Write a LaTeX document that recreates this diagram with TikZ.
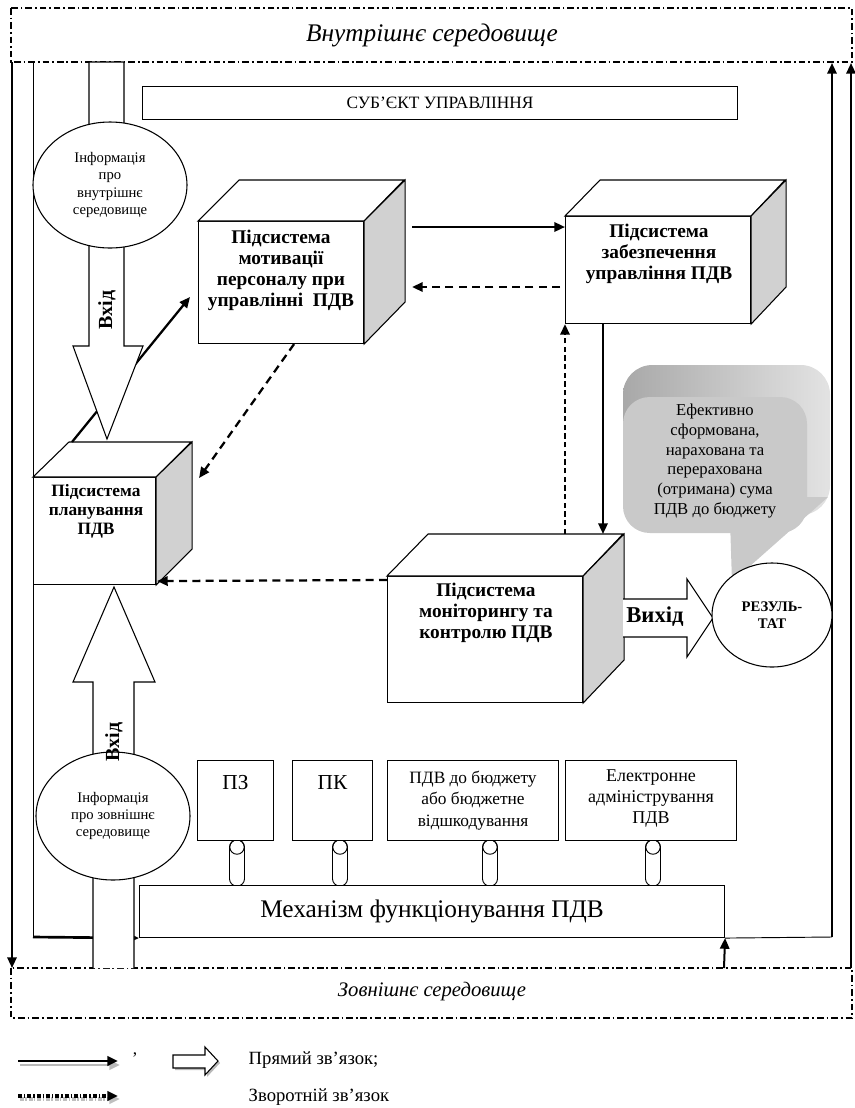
\documentclass[tikz,border=0pt]{standalone}
\usepackage{fontspec}
\setmainfont{Liberation Serif}
\usetikzlibrary{arrows.meta,calc,shapes.geometric}
\definecolor{cubegray}{gray}{0.82}
\definecolor{bubface}{gray}{0.79}
\definecolor{bubtop}{gray}{0.66}
\definecolor{bubright}{gray}{0.89}
\newcommand{\cubebox}[7]{%
  \node[face, minimum width=#4*0.75pt, minimum height=#5*0.75pt] (#1) at (#2,#3) {};
  \draw[cubeline, fill=white] (#1.north west) -- ++(#6,-#7) -- ++(#4,0) -- (#1.north east) -- cycle;
  \draw[cubeline, fill=cubegray] (#1.north east) -- ++(#6,-#7) -- ++(0,#5) -- (#1.south east) -- cycle;
}
\newcommand{\capsule}[3]{%
  \node[capsulebox] (#1) at (#2,#3) {};
  \draw[line width=0.7pt] ([shift={(0,7.5)}]#1.north) circle [radius=5.4pt];
}
\begin{document}
\begin{tikzpicture}[x=0.75pt,y=-0.75pt,
  cubeline/.style={line width=0.8pt},
  face/.style={draw, line width=0.8pt, fill=white, inner sep=0pt, anchor=north west},
  thinline/.style={line width=0.7pt},
  frameline/.style={line width=1.5pt},
  dashdot/.style={line width=1pt, dash pattern=on 5pt off 2.2pt on 1.3pt off 2.2pt},
  tip/.style={-{Triangle[length=8pt,width=7pt]}},
  arr/.style={line width=1.7pt, tip},
  darr/.style={arr, dash pattern=on 6pt off 4pt},
  sdarr/.style={arr, dash pattern=on 4pt off 2.5pt},
  farr/.style={frameline, -{Triangle[length=8pt,width=7pt]}},
  cubetext/.style={font=\bfseries\fontsize{14.5}{15.8}\selectfont, align=center},
  infotext/.style={font=\fontsize{11}{13}\selectfont, align=center},
  boxtext/.style={font=\fontsize{13}{16}\selectfont, align=center},
  smallbox/.style={draw, line width=0.8pt, fill=white, inner sep=0pt, anchor=north west},
  blockarrow/.style={draw, line width=0.8pt, fill=white},
  capsulebox/.style={draw, line width=0.7pt, fill=white, inner sep=0pt, rounded corners=5.4pt,
                     minimum width=15*0.75pt, minimum height=46*0.75pt}
]
\useasboundingbox (0,0) rectangle (855,1108);

% ---------- environment bands ----------
\draw[dashdot] (11,8) rectangle (852,62);
\node[font=\itshape\fontsize{19}{22}\selectfont] (inenv) at (432,35) {Внутрішнє середовище};
\draw[dashdot] (11,968) rectangle (852,1018);
\node[font=\itshape\fontsize{15.5}{18}\selectfont] (outenv) at (432,992) {Зовнішнє середовище};

% ---------- subject ----------
\node[draw, line width=0.8pt, minimum width=595*0.75pt, minimum height=33*0.75pt, inner sep=0, anchor=north west,
      font=\fontsize{13}{15}\selectfont] (subj) at (142,86) {СУБ’ЄКТ УПРАВЛІННЯ};

% ---------- capsules (behind mechanism) ----------
\capsule{c1}{237}{863}
\capsule{c2}{340}{863}
\capsule{c3}{490}{863}
\capsule{c4}{653}{863}

% ---------- mechanism ----------
\node[draw, line width=0.8pt, fill=white, minimum width=585*0.75pt, minimum height=52*0.75pt, inner sep=0, anchor=north west,
      font=\fontsize{19}{22}\selectfont] (mech) at (139,885) {Механізм функціонування ПДВ};

% ---------- frame lines ----------
\coordinate (lt) at (12,62);  \coordinate (lb) at (12,968);
\draw[farr] (lt) -- (lb);
\coordinate (it) at (33,62); \coordinate (ib) at (33,937);
\draw[thinline] (it) -- (ib);
\draw[line width=2pt, -{Triangle[length=7pt,width=6pt]}] (ib) -- (mech.south west);
\coordinate (mb) at (724,968);
\draw[farr] (mb) -- (mech.south east);
\coordinate (rib) at (832,937); \coordinate (rit) at (832,63);
\draw[thinline] (mech.south east) -- (rib);
\draw[farr] (rib) -- (rit);
\coordinate (rob) at (851,968); \coordinate (rot) at (851,63);
\draw[farr] (rob) -- (rot);

% ---------- cubes ----------
\cubebox{mot}{198}{221}{165}{122}{41}{41}
\node[cubetext] (mot-t) at (281,270) {Підсистема\\мотивації\\персоналу при\\управлінні\ \ ПДВ};
\cubebox{zab}{565}{216}{185}{107}{35}{36}
\node[cubetext] (zab-t) at (659,254) {Підсистема\\забезпечення\\управління ПДВ};
\cubebox{plan}{33}{477}{122}{107}{36}{35}
\node[cubetext, font=\bfseries\fontsize{13}{14.3}\selectfont] (plan-t) at (96,511) {Підсистема\\планування\\ПДВ};
\cubebox{mon}{387}{576}{195}{126}{41}{42}
\node[cubetext] (mon-t) at (486,613) {Підсистема\\моніторингу та\\контролю ПДВ};

% ---------- connectors ----------
\draw[arr] ([shift={(48,6)}]mot.north east) -- ([shift={(0,11)}]zab.north west);
\draw[darr] ([shift={(-5,71)}]zab.north west) -- ([shift={(48,66)}]mot.north east);
\draw[arr] ([shift={(38,0)}]zab.south west) -- ([shift={(216,-42)}]mon.north west);
\draw[sdarr] ([shift={(178,-42)}]mon.north west) -- (zab.south west);
\draw[darr] ([shift={(-70,0)}]mot.south east) -- ([shift={(43,1)}]plan.north east);
\draw[arr] ([shift={(39,-35)}]plan.north west) -- ([shift={(-8,76)}]mot.north west);
\draw[darr] ([shift={(0,4)}]mon.north west) -- ([shift={(1,-4)}]plan.south east);

% ---------- big input arrows ----------
\draw[blockarrow] (89,62) -- (89,346) -- (73,346) -- (107,439) -- (143,346) -- (124,346) -- (124,62) -- cycle;
\node[ellipse, draw, line width=0.8pt, fill=white, inner sep=0, minimum width=154*0.75pt, minimum height=126*0.75pt,
      infotext] (ininfo) at (110,185) {Інформація\\про\\внутрішнє\\середовище};
\node[rotate=90, font=\bfseries\fontsize{15}{17}\selectfont] (vh1) at (107,310) {Вхід};

\draw[blockarrow] (93,968) -- (93,682) -- (73,682) -- (114,587) -- (155,682) -- (134,682) -- (134,968);
\node[ellipse, draw, line width=0.8pt, fill=white, inner sep=0, minimum width=154*0.75pt, minimum height=128*0.75pt,
      infotext] (outinfo) at (113,816) {Інформація\\про зовнішнє\\середовище};
\node[rotate=90, font=\bfseries\fontsize{15}{17}\selectfont] (vh2) at (114,742) {Вхід};

% ---------- bottom boxes ----------
\node[smallbox, minimum width=76*0.75pt, minimum height=80*0.75pt] (pz) at (197,760) {};
\node[font=\fontsize{16}{18}\selectfont] (pz-t) at ([shift={(0,23)}]pz.north) {ПЗ};
\node[smallbox, minimum width=80*0.75pt, minimum height=80*0.75pt] (pk) at (292,760) {};
\node[font=\fontsize{16}{18}\selectfont] (pk-t) at ([shift={(0,23)}]pk.north) {ПК};
\node[smallbox, minimum width=171*0.75pt, minimum height=80*0.75pt] (pdv) at (387,760) {};
\node[boxtext] (pdv-t) at (pdv.center) {ПДВ до бюджету\\або бюджетне\\відшкодування};
\node[smallbox, minimum width=171*0.75pt, minimum height=80*0.75pt] (el) at (565,760) {};
\node[boxtext, font=\fontsize{13.5}{15.8}\selectfont] (el-t) at ([shift={(0,-2)}]el.center) {Електронне\\адміністрування\\ПДВ};

% ---------- speech bubble ----------
\path[rounded corners=22pt, left color=bubtop, right color=bubright] (623,365) rectangle (830,515);
\fill[bubface] (730,520) -- (732,582) -- (828,497) -- (800,497) -- cycle;
\fill[bubface, rounded corners=20pt] (623,397) rectangle (807,533);
\node[font=\fontsize{12.5}{14.8}\selectfont, align=center] (bub) at (715,461)
  {Ефективно\\сформована,\\нарахована та\\перерахована\\(отримана) сума\\ПДВ до бюджету};

% ---------- output ----------
\draw[blockarrow] (623,599) -- (687,599) -- (687,579) -- (713,618) -- (687,657) -- (687,637) -- (623,637);
\node[font=\bfseries\fontsize{17}{19}\selectfont] (vyh) at (655,617) {Вихід};
\node[ellipse, draw, line width=0.8pt, fill=white, inner sep=0, minimum width=120*0.75pt, minimum height=104*0.75pt,
      align=center, font=\bfseries\fontsize{11}{13}\selectfont] (res) at (772,615) {РЕЗУЛЬ-\\ТАТ};

% ---------- legend ----------
\coordinate (l1a) at (18,1061); \coordinate (l1b) at (118,1061);
\draw[line width=2pt, gray!55, -{Triangle[length=8pt,width=7pt]}] ([shift={(2,4)}]l1a) -- ([shift={(2,4)}]l1b);
\draw[line width=2pt, -{Triangle[length=8pt,width=7pt]}] (l1a) -- (l1b);
\node[font=\fontsize{13}{15}\selectfont] (comma) at (135,1055) {,};
\fill[gray!55] (175,1057) -- (207,1057) -- (207,1049) -- (220,1063) -- (207,1077) -- (207,1070) -- (175,1070) -- cycle;
\draw[blockarrow] (173,1055) -- (205,1055) -- (205,1047) -- (218,1061) -- (205,1075) -- (205,1068) -- (173,1068) -- cycle;
\node[anchor=west, font=\fontsize{14}{16}\selectfont] (lg1) at (244,1060) {Прямий зв’язок;};
\coordinate (l2a) at (18,1096); \coordinate (l2b) at (118,1096);
\draw[line width=3pt, gray!50, dash pattern=on 3pt off 1pt on 1pt off 1.5pt, -{Triangle[length=8pt,width=7pt]}] ([shift={(2,3)}]l2a) -- ([shift={(2,3)}]l2b);
\draw[line width=2.6pt, dash pattern=on 3pt off 1.5pt on 1pt off 1.5pt, -{Triangle[length=8pt,width=7pt]}] (l2a) -- (l2b);
\node[anchor=west, font=\fontsize{14}{16}\selectfont] (lg2) at (244,1097) {Зворотній зв’язок};
\end{tikzpicture}
\end{document}
